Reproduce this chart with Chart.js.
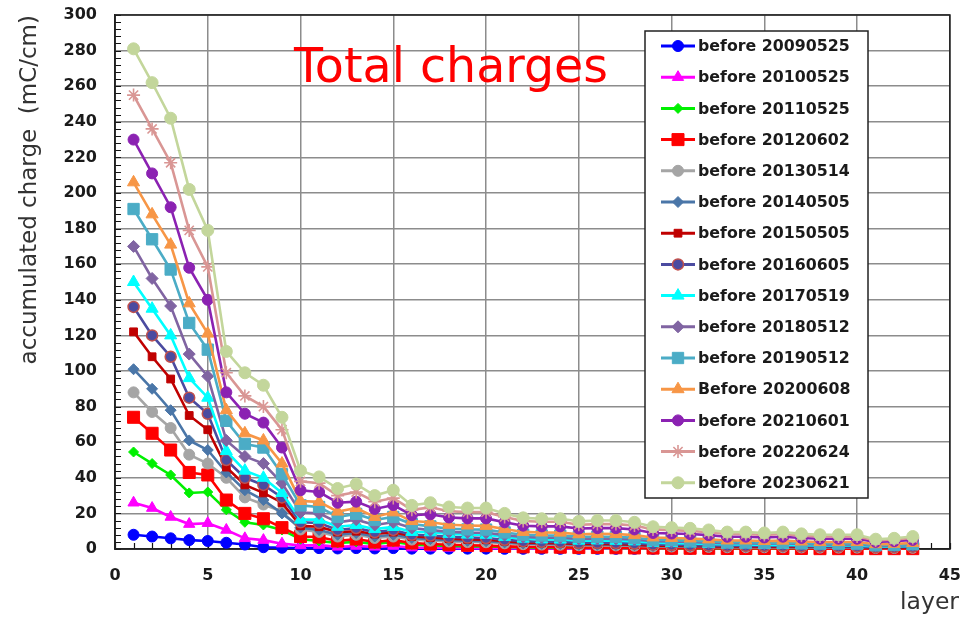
<!DOCTYPE html>
<html>
<head>
<meta charset="utf-8">
<title>Total charges</title>
<script src="https://cdn.jsdelivr.net/npm/chart.js@4.4.1/dist/chart.umd.min.js"></script>
<style>
  html, body { margin: 0; padding: 0; background: #ffffff; }
  #wrap { width: 962px; height: 618px; position: relative; }
</style>
</head>
<body>
<div id="wrap"><canvas id="chart" width="962" height="618"></canvas></div>
<script>
// Layer numbers (x axis)
const layers = [1,2,3,4,5,6,7,8,9,10,11,12,13,14,15,16,17,18,19,20,21,22,23,24,25,26,27,28,29,30,31,32,33,34,35,36,37,38,39,40,41,42,43];

// Series names shown in the legend
const seriesLabels = [
  'before 20090525', 'before 20100525', 'before 20110525', 'before 20120602',
  'before 20130514', 'before 20140505', 'before 20150505', 'before 20160605',
  'before 20170519', 'before 20180512', 'before 20190512', 'Before 20200608',
  'before 20210601', 'before 20220624', 'before 20230621'
];

// Accumulated charge per layer (mC/cm)
const before20090525 = [8,7,6,5,4.5,3.5,2.5,1,0.7,0.5,0.5,0.3,0.5,0.3,0.5,0.2,
  0.2,0.2,0.2,0.2,0.1,0.1,0.1,0.1,0.1,0.1,0.1,0.1,0.1,0.1,0.1,0.1,0.1,0.1,0.1,0.1,0.1,0.1,0.1,0.1,0.1,0.1,0.1];
const before20100525 = [26,23,18,14,14.5,10.7,6,5,3,2,2.2,1.2,1.7,1.2,1.7,0.8,
  0.7,0.6,0.5,0.5,0.4,0.3,0.3,0.3,0.2,0.2,0.2,0.2,0.2,0.1,0.1,0.1,0.1,0.1,0.1,0.1,0.1,0.1,0.1,0.1,0.1,0.1,0.1];
const before20110525 = [54.5,48,41.6,31.5,32,22,15,13.5,10.7,5.5,4.5,3.4,4,2.8,3.9,2.5,
  2,1.7,1.5,1.4,1.1,0.9,0.8,0.7,0.6,0.6,0.5,0.5,0.4,0.3,0.3,0.3,0.2,0.2,0.2,0.2,0.2,0.2,0.2,0.2,0.1,0.1,0.1];
const before20120602 = [74,65,55.6,43,41.6,27.5,20,17,12,7,6.7,4.5,5.6,3.9,5,3.4,
  2.8,2.4,2.1,1.9,1.5,1.2,1.1,1,0.8,0.8,0.7,0.6,0.5,0.4,0.4,0.4,0.3,0.3,0.3,0.3,0.3,0.2,0.2,0.2,0.2,0.2,0.2];
const before20130514 = [88,77,68,53,48,40,29,25,21,11,9.6,7,8,6.2,7,5.3,
  4.7,4.2,3.9,3.8,3.2,2.7,2.5,2.4,2.1,2.1,2,1.8,1.4,1.4,1.3,1.2,1,1,1,1,0.9,0.8,0.8,0.8,0.6,0.6,0.7];
const before20140505 = [101,90,78,61,55.6,43,33,27.5,20,12,10.7,8,9,7,8,6.2,
  5.5,4.9,4.6,4.4,3.7,3.1,2.9,2.8,2.4,2.4,2.3,2.1,1.7,1.6,1.5,1.3,1.2,1.2,1.1,1.2,1,1,1,1,0.7,0.7,0.8];
const before20150505 = [122,108,95.5,75,67,46,36,31.5,26,13,12.5,9.5,10,8.4,9.5,7,
  6.5,5.8,5.4,5.2,4.4,3.6,3.4,3.3,2.8,2.8,2.7,2.4,1.9,1.8,1.7,1.5,1.4,1.4,1.3,1.3,1.2,1.1,1.1,1.1,0.8,0.8,0.9];
const before20160605 = [136,120,108,85,76,50,40,36,29,15,14.6,10.7,11.8,9.5,10.7,8,
  7.6,6.8,6.4,6.2,5.2,4.4,4.1,4,3.5,3.5,3.4,3.1,2.5,2.4,2.2,2,1.8,1.8,1.7,1.8,1.6,1.5,1.5,1.5,1,1.1,1.3];
const before20170519 = [150,135,120,96,85,55,44,40,31.5,16.5,16.5,12.5,13.5,11.2,12.4,9.6,
  9.4,8.5,8.1,8,6.8,5.8,5.4,5.3,4.7,4.8,4.6,4.3,3.5,3.3,3.1,2.8,2.5,2.5,2.3,2.4,2.1,2,2,2,1.4,1.5,1.7];
const before20180512 = [170,152,136.5,109.5,97,61,52,48,37,20.5,20,15,16.5,13.5,15,11.8,
  10.6,9.6,9.2,9.1,7.8,6.7,6.4,6.3,5.7,5.8,5.7,5.3,4.4,4.2,4,3.6,3.2,3.2,3,3.2,2.8,2.6,2.6,2.6,1.8,1.9,2.3];
const before20190512 = [191,174,157,127,112,72,59,57,42,24.5,23.6,18,19.7,16.3,18,14,
  12.7,11.4,11,10.9,9.3,8,7.6,7.5,6.8,6.9,6.8,6.3,5.2,5,4.7,4.3,3.8,3.8,3.6,3.7,3.3,3.1,3.1,3.1,2.1,2.3,2.7];
const before20200608 = [206,188,171,138,121,78,65,61,48,27,26.5,21,23,18,20.6,15.7,
  15,13.6,13.2,13,11.2,9.6,9.3,9.2,8.3,8.5,8.4,7.8,6.5,6.2,5.9,5.4,4.8,4.8,4.5,4.7,4.2,3.9,3.9,3.9,2.7,2.9,3.4];
const before20210601 = [230,211,192,158,140,88,76,71,57,33,32,26,26.6,22.5,24.7,19,
  19.5,17.7,17.2,17.2,15,13.1,12.7,12.7,11.5,11.7,11.7,11,9,8.7,8.4,7.8,6.9,6.9,6.5,6.9,6.2,5.8,5.8,5.8,4,4.4,5.1];
const before20220624 = [255,236,217,179,158.5,99,86,80,67,38,37,30,32,26.6,28.6,22,
  23.4,21.2,20.7,20.7,18,15.7,15.3,15.3,13.6,14,14,13.2,11,10.6,10.2,9.4,8.4,8.4,7.9,8.4,7.5,7,7,7,4.8,5.3,6.2];
const before20230621 = [281,262,242,202,179,111,99,92,74,44,40.5,34,36.5,30,33,24.5,
  26,23.6,23,23,20,17.5,17,17,15.5,16,16,15,12.5,12,11.6,10.7,9.5,9.5,9,9.5,8.5,8,8,8,5.5,6,7];

const seriesValues = [
  before20090525, before20100525, before20110525, before20120602, before20130514,
  before20140505, before20150505, before20160605, before20170519, before20180512,
  before20190512, before20200608, before20210601, before20220624, before20230621
];

// Axis ranges and tick spacing
const xRange = [0, 45];
const yRange = [0, 300];
const xMajorStep = 5, xMinorStep = 1;
const yMajorStep = 20, yMinorStep = 4;

// Line / marker style per series
const styles = [
  { color: '#0000FF', point: 'circle',   r: 5.5 },
  { color: '#FF00FF', point: 'triangle', r: 6.5 },
  { color: '#00F000', point: 'rectRot',  r: 5 },
  { color: '#FF0000', point: 'rect',     r: 8.5 },
  { color: '#A5A5A5', point: 'circle',   r: 5.5 },
  { color: '#4A76A8', point: 'rectRot',  r: 5.5 },
  { color: '#C00000', point: 'rect',     r: 5.5 },
  { color: '#4B4BA0', point: 'circle',   r: 5.5, pointBorder: '#C0504D' },
  { color: '#00FFFF', point: 'triangle', r: 7 },
  { color: '#8064A2', point: 'rectRot',  r: 6 },
  { color: '#4BACC6', point: 'rect',     r: 8 },
  { color: '#F79646', point: 'triangle', r: 7 },
  { color: '#8B22B2', point: 'circle',   r: 5.5 },
  { color: '#D99694', point: 'star',     r: 6.5 },
  { color: '#C3D69B', point: 'circle',   r: 6 }
];

const FONT = "'DejaVu Sans', Verdana, sans-serif";

const datasets = seriesValues.map((vals, i) => ({
  label: seriesLabels[i],
  data: layers.map((l, k) => ({ x: l, y: vals[k] })),
  borderColor: styles[i].color,
  backgroundColor: styles[i].color,
  borderWidth: 2.6,
  pointStyle: styles[i].point,
  pointRadius: styles[i].r,
  pointBackgroundColor: styles[i].color,
  pointBorderColor: styles[i].pointBorder || styles[i].color,
  pointBorderWidth: styles[i].pointBorder ? 1.5 : (styles[i].point === 'star' ? 1.6 : 1),
  tension: 0,
  clip: false,
  order: seriesValues.length - i
}));

// Minor ticks, frame, in-plot title, boxed legend and x-axis caption
const decorations = {
  id: 'decorations',
  beforeDatasetsDraw(chart) {
    const { ctx, chartArea: a, scales: { x, y } } = chart;
    ctx.save();
    ctx.strokeStyle = '#111';
    ctx.lineWidth = 1.2;
    ctx.beginPath();
    for (let v = yRange[0]; v <= yRange[1]; v += yMinorStep) {
      const py = Math.round(y.getPixelForValue(v)) + 0.5;
      ctx.moveTo(a.left, py);
      ctx.lineTo(a.left + 6, py);
    }
    for (let v = xRange[0]; v <= xRange[1]; v += xMinorStep) {
      const px = Math.round(x.getPixelForValue(v)) + 0.5;
      ctx.moveTo(px, a.bottom);
      ctx.lineTo(px, a.bottom - 6);
    }
    ctx.stroke();
    ctx.lineWidth = 1.6;
    ctx.strokeStyle = '#222';
    ctx.strokeRect(a.left, a.top, a.right - a.left, a.bottom - a.top);
    ctx.restore();
  },
  afterDraw(chart) {
    const { ctx } = chart;
    ctx.save();

    // Title inside the plot
    ctx.fillStyle = '#FF0000';
    ctx.font = '47.5px ' + FONT;
    ctx.textAlign = 'center';
    ctx.textBaseline = 'alphabetic';
    ctx.fillText('Total charges', 451, 82);

    // Legend box
    const box = { left: 645, top: 31, right: 868, bottom: 498 };
    ctx.fillStyle = '#ffffff';
    ctx.fillRect(box.left, box.top, box.right - box.left, box.bottom - box.top);
    ctx.strokeStyle = '#222';
    ctx.lineWidth = 1.5;
    ctx.strokeRect(box.left, box.top, box.right - box.left, box.bottom - box.top);

    const helpers = Chart.helpers;
    chart.data.datasets.forEach((ds, i) => {
      const cy = 46 + i * 31.2;
      ctx.strokeStyle = ds.borderColor;
      ctx.lineWidth = 3;
      ctx.beginPath();
      ctx.moveTo(661, cy);
      ctx.lineTo(695, cy);
      ctx.stroke();
      ctx.fillStyle = ds.pointBackgroundColor;
      ctx.strokeStyle = ds.pointBorderColor;
      ctx.lineWidth = ds.pointBorderWidth;
      if (helpers && helpers.drawPoint) {
        helpers.drawPoint(ctx, {
          pointStyle: ds.pointStyle,
          rotation: 0,
          radius: ds.pointRadius,
          borderWidth: ds.pointBorderWidth
        }, 678, cy);
      }
      ctx.fillStyle = '#1a1a1a';
      ctx.font = 'bold 15.8px ' + FONT;
      ctx.textAlign = 'left';
      ctx.textBaseline = 'middle';
      ctx.fillText(ds.label, 698, cy + 1);
    });

    // x-axis caption
    ctx.fillStyle = '#333';
    ctx.font = '23.5px ' + FONT;
    ctx.textAlign = 'right';
    ctx.textBaseline = 'middle';
    ctx.fillText('layer', 959, 603);
    ctx.restore();
  }
};

new Chart(document.getElementById('chart'), {
  type: 'line',
  data: { datasets },
  options: {
    responsive: false,
    animation: false,
    devicePixelRatio: 1,
    layout: { padding: { left: 0, right: 12, top: 15, bottom: 0 } },
    plugins: {
      legend: { display: false },
      tooltip: { enabled: false },
      title: { display: false }
    },
    scales: {
      x: {
        type: 'linear',
        min: xRange[0],
        max: xRange[1],
        afterFit(scale) { scale.height = 69; },
        ticks: {
          stepSize: xMajorStep,
          padding: 1,
          color: '#1a1a1a',
          font: { family: FONT, size: 16, weight: 'bold' },
          maxRotation: 0
        },
        grid: {
          color: '#8c8c8c', lineWidth: 1.5,
          drawTicks: true, tickLength: 16, tickColor: 'rgba(0,0,0,0)'
        },
        border: { display: true, color: '#222', width: 1.6 }
      },
      y: {
        type: 'linear',
        min: yRange[0],
        max: yRange[1],
        afterFit(scale) { scale.width = 115; },
        ticks: {
          stepSize: yMajorStep,
          padding: 1,
          color: '#1a1a1a',
          font: { family: FONT, size: 16, weight: 'bold' }
        },
        grid: {
          color: '#8c8c8c', lineWidth: 1.5,
          drawTicks: true, tickLength: 17, tickColor: 'rgba(0,0,0,0)'
        },
        border: { display: true, color: '#222', width: 1.6 },
        title: {
          display: true,
          text: 'accumulated charge  (mC/cm)',
          align: 'end',
          color: '#333',
          font: { family: FONT, size: 23, weight: 'normal' },
          padding: { top: 16, bottom: 0 }
        }
      }
    }
  },
  plugins: [decorations]
});
</script>
</body>
</html>
